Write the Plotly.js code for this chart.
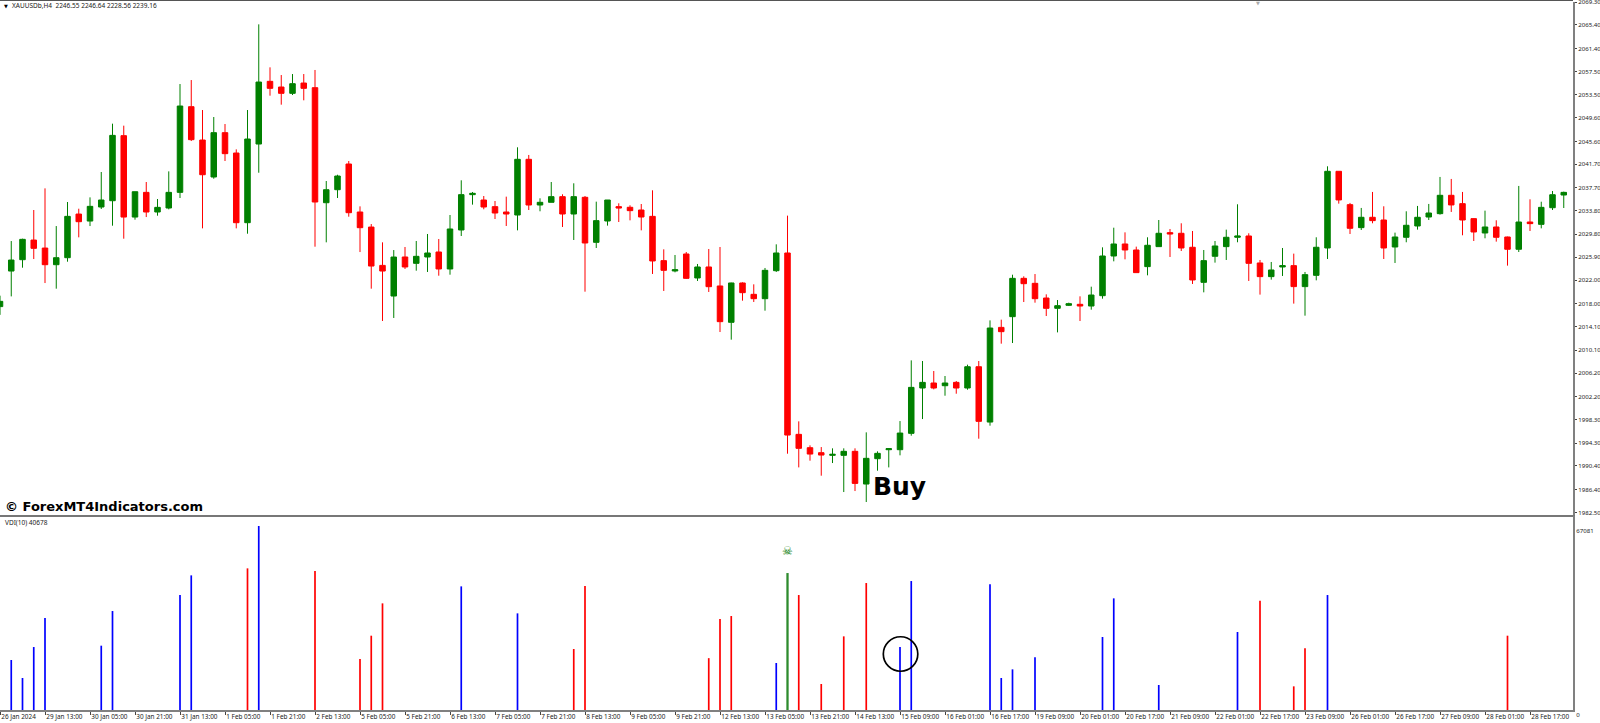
<!DOCTYPE html>
<html>
<head>
<meta charset="utf-8">
<script src="https://cdn.plot.ly/plotly-3.0.1.min.js"></script>
<style>html,body{margin:0;padding:0;background:#fff}#c{width:1600px;height:723px}</style>
</head>
<body>
<div id="c"></div>
<script>
// XAUUSDb H4 candles, in price units, bar 0 to bar 139
const open = [2017.5,2023.55,2025.48,2028.82,2027.46,2024.63,2025.82,2033.24,2032.05,2034.44,
2035.51,2046.57,2032.73,2036.93,2033.59,2034.27,2036.93,2051.50,2045.83,2039.54,
2047.08,2043.62,2031.77,2045.15,2055.81,2054.84,2053.77,2055.52,2054.73,2035.17,
2037.38,2041.75,2033.59,2031.03,2024.51,2019.30,2025.94,2024.86,2025.94,2026.79,
2023.90,2030.53,2036.54,2035.63,2034.50,2033.59,2033.08,2042.55,2034.78,2035.24,
2036.20,2033.25,2036.09,2028.43,2032.06,2034.50,2034.39,2033.93,2032.85,2025.32,
2023.56,2026.45,2022.37,2024.24,2021.01,2014.83,2021.52,2019.59,2018.85,2023.61,
2026.62,1995.78,1993.51,1992.66,1992.21,1992.21,1992.89,1987.33,1991.64,1993.17,
1993.17,1995.95,2003.66,2004.51,2004.05,2004.62,2003.66,2007.28,1997.87,2013.97,
2015.79,2022.31,2021.46,2018.96,2017.21,2017.72,2017.89,2017.60,2019.36,2026.11,
2028.15,2027.13,2024.30,2027.70,2030.08,2029.97,2027.59,2021.63,2026.06,2027.70,
2029.29,2029.51,2024.92,2022.60,2024.24,2024.47,2020.90,2022.82,2027.47,2040.51,
2034.84,2030.93,2032.69,2032.23,2027.64,2029.29,2031.21,2032.74,2033.31,2036.43,
2035.01,2032.46,2030.02,2031.04,2029.34,2027.25,2031.89,2031.49,2034.32,2036.48];
const high = [2019.36,2028.65,2029.05,2033.93,2037.61,2031.20,2035.29,2034.15,2036.08,2040.39,
2048.61,2048.27,2037.04,2038.69,2035.80,2040.50,2055.35,2056.03,2050.93,2049.74,
2048.55,2044.24,2050.93,2065.50,2058.19,2056.88,2057.05,2057.05,2057.74,2038.86,
2039.93,2042.26,2034.55,2031.54,2028.43,2027.12,2027.64,2028.66,2029.85,2029.00,
2033.08,2038.98,2036.99,2036.31,2035.46,2036.20,2044.59,2043.29,2035.92,2038.69,
2036.60,2038.47,2036.31,2035.35,2035.63,2035.07,2034.73,2034.95,2037.28,2027.24,
2026.28,2026.79,2024.75,2027.30,2027.64,2021.57,2021.63,2021.29,2024.07,2028.09,
2032.97,1997.99,1993.91,1993.62,1993.40,1993.40,1993.40,1996.12,1992.89,1993.40,
1998.04,2008.36,2008.25,2006.55,2005.70,2004.85,2007.63,2008.25,2015.16,2015.28,
2022.93,2022.65,2023.04,2019.59,2018.62,2018.17,2019.25,2020.89,2027.58,2030.92,
2030.13,2027.70,2029.29,2032.23,2030.70,2031.67,2030.36,2027.13,2028.66,2030.59,
2034.90,2029.97,2025.43,2025.09,2027.47,2026.51,2023.39,2029.29,2041.36,2040.51,
2035.13,2034.28,2037.00,2034.56,2030.08,2033.71,2034.62,2034.96,2039.55,2039.21,
2037.00,2032.52,2033.82,2032.18,2029.40,2038.02,2035.75,2035.34,2037.16,2037.05];
const low = [2016.1,2019.24,2024.12,2025.59,2021.51,2020.55,2025.14,2029.28,2031.20,2034.10,
2031.26,2029.05,2032.28,2032.73,2032.96,2034.04,2035.97,2045.66,2030.81,2039.25,
2042.26,2030.81,2029.90,2040.27,2053.37,2051.84,2053.48,2052.58,2027.69,2028.43,
2035.97,2032.79,2026.78,2020.55,2015.06,2015.57,2023.90,2023.61,2023.39,2022.76,
2022.93,2029.51,2034.84,2034.05,2032.40,2031.21,2030.47,2033.93,2033.71,2035.24,
2031.04,2028.83,2020.04,2027.47,2031.27,2031.89,2032.17,2030.47,2023.05,2020.16,
2023.33,2022.20,2021.86,2019.99,2013.18,2011.88,2018.51,2018.29,2016.81,2023.39,
1992.49,1990.16,1991.30,1988.75,1990.90,1985.97,1986.14,1984.27,1989.60,1990.16,
1992.21,1995.55,1998.38,2003.43,2002.35,2002.69,2003.37,1995.04,1997.25,2011.20,
2011.31,2018.28,2018.17,2015.90,2013.12,2017.60,2015.05,2016.98,2018.85,2025.20,
2025.54,2023.28,2022.82,2027.70,2025.94,2026.96,2021.35,2019.93,2024.98,2025.43,
2028.44,2021.86,2019.54,2022.09,2022.71,2018.01,2015.96,2021.97,2025.60,2035.01,
2029.85,2030.53,2031.67,2025.60,2024.92,2028.44,2030.59,2032.23,2033.14,2033.60,
2029.63,2028.66,2029.12,2028.55,2024.47,2026.79,2030.36,2030.81,2033.93,2034.27];
const close = [2018.4,2025.42,2028.94,2027.41,2024.63,2025.82,2032.85,2031.94,2034.55,2035.63,
2046.62,2032.73,2037.04,2033.59,2034.38,2036.93,2051.61,2045.89,2039.93,2047.08,
2043.51,2031.77,2046.00,2055.69,2054.62,2053.77,2055.41,2054.62,2035.29,2037.38,
2039.71,2033.47,2030.92,2024.40,2023.55,2025.93,2024.24,2026.05,2026.62,2023.90,
2030.70,2036.54,2036.77,2034.44,2033.42,2033.25,2042.55,2034.78,2035.24,2036.20,
2033.25,2036.20,2028.32,2032.12,2035.63,2034.27,2033.82,2032.74,2025.26,2023.67,
2023.78,2022.31,2024.24,2020.89,2014.94,2021.52,2019.87,2018.85,2023.67,2026.62,
1995.66,1993.40,1992.43,1992.26,1992.38,1992.89,1987.44,1991.70,1992.55,1993.34,
1996.00,2003.77,2004.62,2003.66,2004.51,2003.66,2007.28,1997.99,2013.86,2013.24,
2022.31,2021.40,2018.85,2017.21,2017.66,2018.00,2017.60,2019.47,2026.11,2028.15,
2027.13,2023.28,2027.93,2029.97,2029.85,2027.47,2022.03,2025.32,2027.81,2029.29,
2029.51,2024.86,2022.60,2023.73,2024.47,2020.90,2022.94,2027.59,2040.51,2035.64,
2030.82,2032.69,2032.12,2027.47,2029.34,2031.33,2032.69,2033.42,2036.43,2034.79,
2032.23,2030.19,2031.04,2029.29,2027.25,2031.89,2031.61,2034.38,2036.53,2036.93];

// VDI(10) spikes: bar number and value, one pair of arrays for each colour
const blueBars = [1,2,3,4,9,10,16,17,23,41,46,69,80,81,88,89,90,92,98,99,103,110,118];
const blueVals = [18225,11664,22960,33534,23450,36085,41918,49086,67081,45077,35235,17132,22964,47020,45806,11664,14823,19197,26609,40703,9113,28431,41918];
const redBars = [22,28,32,33,34,51,52,63,64,65,71,73,75,77,112,115,116,134];
const redVals = [51640,50665,18590,27095,38880,22235,45198,18900,33170,34263,41918,9477,26852,46292,39852,8627,22478,27095];
const greenBars = [70];
const greenVals = [49937];
const skullBar = [70], skullVal = [57600];
const circleBar = [80.05], circleVal = [20418];

const priceTicks = ["2069.30","2065.40","2061.40","2057.50","2053.50","2049.60","2045.60","2041.70","2037.70","2033.80","2029.80","2025.90","2022.00","2018.00","2014.10","2010.10","2006.20","2002.20","1998.30","1994.30","1990.40","1986.40","1982.50"];
const timeTicks = ["26 Jan 2024","29 Jan 13:00","30 Jan 05:00","30 Jan 21:00","31 Jan 13:00","1 Feb 05:00","1 Feb 21:00","2 Feb 13:00","5 Feb 05:00","5 Feb 21:00","6 Feb 13:00","7 Feb 05:00","7 Feb 21:00","8 Feb 13:00","9 Feb 05:00","9 Feb 21:00","12 Feb 13:00","13 Feb 05:00","13 Feb 21:00","14 Feb 13:00","15 Feb 09:00","16 Feb 01:00","16 Feb 17:00","19 Feb 09:00","20 Feb 01:00","20 Feb 17:00","21 Feb 09:00","22 Feb 01:00","22 Feb 17:00","23 Feb 09:00","26 Feb 01:00","26 Feb 17:00","27 Feb 09:00","28 Feb 01:00","28 Feb 17:00"];

const barNumbers = open.map((_, i) => i);
const timeTickBars = timeTicks.map((_, i) => i * 4);
const W = 1600, H = 723;
const xRange = [0, 1573 / 11.25];
const axisFont = {family: '"Noto Sans", "DejaVu Sans", sans-serif', size: 6.4, color: '#222'};
const priceFont = {family: '"Noto Sans", "DejaVu Sans", sans-serif', size: 6.1, color: '#222'};
// Each spike is a stem from zero up to its value, drawn through the lower panel's axes.
const spike = (bars, vals, color, width) => ({
  type: 'scatter', mode: 'lines', xaxis: 'x2', yaxis: 'y2',
  x: bars.flatMap(b => [b, b, null]),
  y: vals.flatMap(v => [0, v, null]),
  line: {color, width}
});

const traces = [
  {type: 'candlestick', x: barNumbers, open, high, low, close, xaxis: 'x', yaxis: 'y',
   whiskerwidth: 0,
   increasing: {line: {color: '#008000', width: 1}, fillcolor: '#008000'},
   decreasing: {line: {color: '#ff0000', width: 1}, fillcolor: '#ff0000'}},
  spike(blueBars, blueVals, '#0000ff', 1.7),
  spike(redBars, redVals, '#ff0000', 1.7),
  spike(greenBars, greenVals, '#2e8b2e', 2.3),
  {type: 'scatter', mode: 'text', x: skullBar, y: skullVal, text: ['☠'], xaxis: 'x2', yaxis: 'y2',
   textposition: 'middle center', textfont: {family: 'DejaVu Sans', size: 12, color: '#0a7a0a'}},
  {type: 'scatter', mode: 'markers', x: circleBar, y: circleVal, xaxis: 'x2', yaxis: 'y2',
   marker: {symbol: 'circle-open', size: 34.5, color: '#000', line: {width: 1.7, color: '#000'}}}
];

const text = (t, px, py, size, color, family, weight) => ({
  text: t, xref: 'paper', yref: 'paper', x: px / W, y: 1 - py / H,
  xanchor: 'left', yanchor: 'middle', showarrow: false,
  font: {family: family, size: size, color: color, weight: weight || 400}
});

const layout = {
  width: W, height: H, margin: {l: 0, r: 0, t: 0, b: 0, autoexpand: false},
  paper_bgcolor: '#fff', plot_bgcolor: '#fff', showlegend: false, hovermode: false,
  xaxis: {domain: [0, 1573 / W], range: xRange, anchor: 'y', showgrid: false, zeroline: false,
    rangeslider: {visible: false}, showticklabels: false, ticks: '', showline: true, linecolor: '#777', linewidth: 2.5},
  yaxis: {domain: [1 - 514.5 / H, 1 - 1.5 / H], range: [1982.15, 2069.385], anchor: 'x', side: 'right',
    showgrid: false, zeroline: false, showline: true, linecolor: '#808080', linewidth: 2,
    tickmode: 'array', tickvals: priceTicks.map(Number), ticktext: priceTicks,
    ticks: 'outside', ticklen: 2, tickcolor: '#444', tickwidth: 1, tickfont: priceFont, ticklabelstandoff: -2.5,
    ticklabeloverflow: 'allow'},
  xaxis2: {domain: [0, 1573 / W], range: xRange, anchor: 'y2', showgrid: false, zeroline: false,
    showline: true, linecolor: '#808080', linewidth: 1.5,
    tickmode: 'array', tickvals: timeTickBars, ticktext: timeTicks, tickangle: 0,
    ticklabelposition: 'outside right', ticks: 'outside', ticklen: 3, tickcolor: '#444', tickwidth: 1, tickfont: axisFont},
  yaxis2: {domain: [1 - 710 / H, 1 - 516 / H], range: [0, 70732], anchor: 'x2', side: 'right',
    showgrid: false, zeroline: false, showline: true, linecolor: '#808080', linewidth: 2,
    tickmode: 'array', tickvals: [0, 67081], ticktext: ['0', '67081'], ticks: '', ticklabelshift: 5, tickfont: priceFont},
  shapes: [{type: 'line', xref: 'paper', yref: 'paper', x0: 0, x1: 1573 / W, y0: 1 - 0.5 / H, y1: 1 - 0.5 / H, line: {color: '#555', width: 1}}],
  annotations: [
    text('▼', 2, 6, 5, '#000', 'DejaVu Sans'),
    text('XAUUSDb,H4  2246.55 2246.64 2228.56 2239.16', 10, 6, 6.5, '#222', '"Noto Sans"'),
    text('VDI(10) 40678', 3, 522, 6.5, '#222', '"Noto Sans"'),
    text('© ForexMT4Indicators.com', 3, 507, 13, '#000', 'DejaVu Sans', 700),
    text('Buy', 871, 486, 25, '#000', 'DejaVu Sans', 700),
    text('▼', 1254, 3, 5, '#aaa', 'DejaVu Sans')
  ]
};
Plotly.newPlot('c', traces, layout, {displayModeBar: false, staticPlot: true});
</script>
</body>
</html>
